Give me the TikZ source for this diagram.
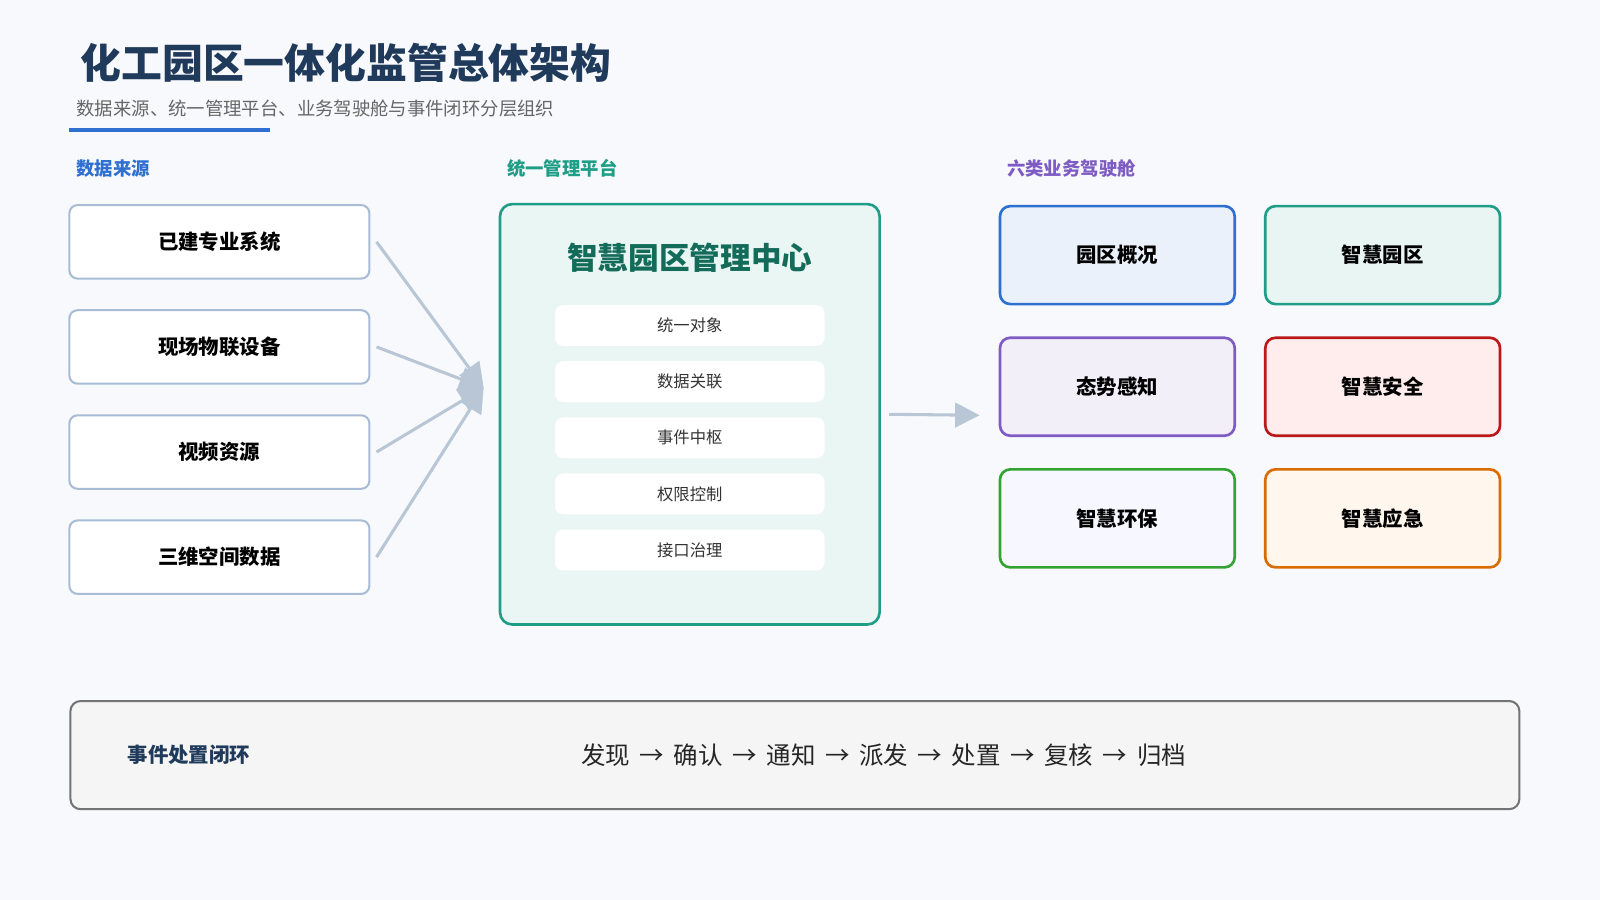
\documentclass[tikz,border=0pt]{standalone}
\usepackage{fontspec}
\setmainfont{Noto Sans CJK SC}
\usetikzlibrary{arrows.meta}
\definecolor{bgc}{HTML}{F7F9FC}
\definecolor{navy}{HTML}{1F3A5A}
\definecolor{uline}{HTML}{2F6FD0}
\definecolor{srcb}{HTML}{A8BCD6}
\definecolor{conn}{HTML}{B8C6D6}
\definecolor{tealb}{HTML}{1E9E86}
\definecolor{tealf}{HTML}{EAF6F3}
\definecolor{tealt}{HTML}{136B5A}
\definecolor{purt}{HTML}{7E5CC4}
\tikzset{
  src/.style = {draw=srcb, fill=white, rounded corners=4pt, line width=1pt,
                minimum width=147pt, minimum height=36pt, font=\bfseries\fontsize{10}{12}\selectfont},
  item/.style = {fill=white, rounded corners=4pt, minimum width=132pt,
                 minimum height=20pt, font=\fontsize{8}{10}\selectfont, text=black!80},
  cock/.style = {draw=#1, line width=1.3pt, rounded corners=5pt,
                 minimum width=115pt, minimum height=48pt,
                 font=\bfseries\fontsize{10}{12}\selectfont},
  hdr/.style = {anchor=west, font=\bfseries\fontsize{9}{11}\selectfont},
  link/.style = {draw=conn, line width=1.5pt, -{Triangle[length=12pt,width=12pt]}}
}
\begin{document}
\begin{tikzpicture}[x=0.5pt,y=-0.5pt]
	\useasboundingbox (0,0) rectangle (1568,882);
	\fill[bgc] (0,0) rectangle (1568,882);

	% Title
	\node[anchor=west, text=navy, font=\bfseries\fontsize{20}{24}\selectfont] (title) at (72,62) {化工园区一体化监管总体架构};
	\node[anchor=west, text=black!60, font=\fontsize{9}{11}\selectfont] (subtitle) at (68,106) {数据来源、统一管理平台、业务驾驶舱与事件闭环分层组织};
	\fill[uline] (68,125) rectangle (265,129);

	% Headers
	\node[hdr, text=uline] (h1) at (68,165) {数据来源};
	\node[hdr, text=tealb] (h2) at (490,165) {统一管理平台};
	\node[hdr, text=purt] (h3) at (980,165) {六类业务驾驶舱};

	% Sources
	\node[src] (s1) at (215,237) {已建专业系统};
	\node[src] (s2) at (215,340) {现场物联设备};
	\node[src] (s3) at (215,443) {视频资源};
	\node[src] (s4) at (215,546) {三维空间数据};

	% Platform
	\node[draw=tealb, fill=tealf, line width=1.3pt, rounded corners=6pt,
	      minimum width=186pt, minimum height=206pt] (hub) at (676,406) {};
	\node[text=tealt, font=\bfseries\fontsize{15}{18}\selectfont] (hubt) at (676,253) {智慧园区管理中心};
	\node[item] (i1) at (676,319) {统一对象};
	\node[item] (i2) at (676,374) {数据关联};
	\node[item] (i3) at (676,429) {事件中枢};
	\node[item] (i4) at (676,484) {权限控制};
	\node[item] (i5) at (676,539) {接口治理};

	% Links
	\coordinate (in) at (474,380);
	\foreach \s in {s1,s2,s3,s4}
		\draw[link] ([xshift=3pt]\s.east) -- (in);
	\coordinate (out) at (960,407);
	\draw[link] ([xshift=4pt]hub.east) -- (out);

	% Cockpits
	\node[cock=uline, fill=uline!10] (c1) at (1095,250) {园区概况};
	\node[cock=tealb, fill=tealb!10] (c2) at (1355,250) {智慧园区};
	\node[cock=purt, fill=purt!10] (c3) at (1095,379) {态势感知};
	\node[cock={red!70!black!90}, fill=red!7] (c4) at (1355,379) {智慧安全};
	\node[cock={green!55!black!80}, fill=green!6!blue!3] (c5) at (1095,508) {智慧环保};
	\node[cock={orange!85!black}, fill=orange!7] (c6) at (1355,508) {智慧应急};

	% Event loop
	\node[draw=black!55, fill=blue!4!black!4, line width=1pt, rounded corners=5pt,
	      minimum width=710pt, minimum height=53pt] (loop) at (779,740) {};
	\node[anchor=west, text=navy, font=\bfseries\fontsize{10}{12}\selectfont] (loopt) at (118,740) {事件处置闭环};
	\node[text=black!85, font=\fontsize{12}{14}\selectfont] (flow) at (866,740)
		{发现 \,→\, 确认 \,→\, 通知 \,→\, 派发 \,→\, 处置 \,→\, 复核 \,→\, 归档};
\end{tikzpicture}
\end{document}
